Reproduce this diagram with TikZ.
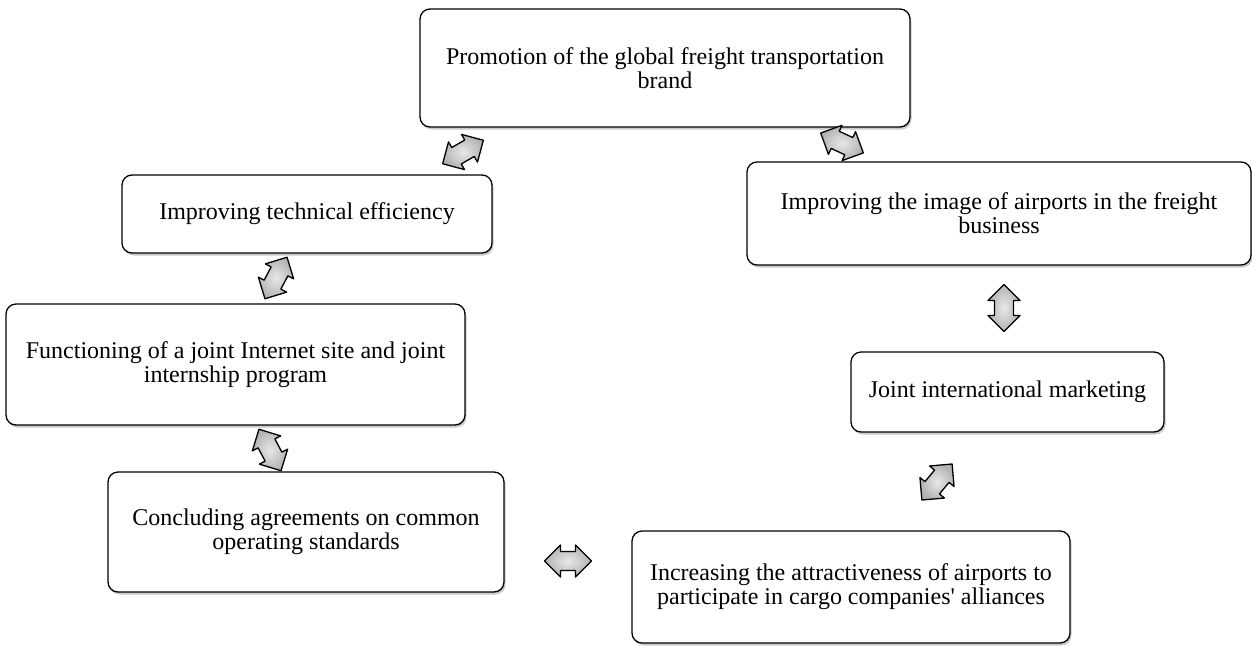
\documentclass[tikz,border=0pt]{standalone}
\usepackage{fontspec}
\setmainfont{Liberation Serif}[Ligatures=TeXOff]
\usetikzlibrary{shadows}
\begin{document}
\begin{tikzpicture}[x=1pt,y=-1pt,
  box/.style={draw=black, line width=1.3pt, rounded corners=10pt, fill=white,
    align=center, inner sep=0pt, font=\fontsize{24}{24}\selectfont,
    drop shadow={shadow xshift=1.5pt, shadow yshift=-2.5pt, opacity=0.35, fill=black!60}},
  dbl/.pic={\path[draw=black, line width=1.3pt, line join=round,
      inner color=gray!18, outer color=gray!60]
      (-23.5,0) -- (-7.5,-16) -- (-7.5,-9.5) -- (7.5,-9.5) -- (7.5,-16) -- (23.5,0)
      -- (7.5,16) -- (7.5,9.5) -- (-7.5,9.5) -- (-7.5,16) -- cycle;}
]
\useasboundingbox (0,0) rectangle (1252,646);
\node[box, minimum width=490pt, minimum height=118pt] (n1) at (665,68)
  {Promotion of the global freight transportation\\brand};
\node[box, minimum width=370pt, minimum height=78pt] (n2) at (307,214)
  {Improving technical efficiency};
\node[box, minimum width=459pt, minimum height=121pt] (n3) at (235.5,364.5)
  {Functioning of a joint Internet site and joint\\internship program};
\node[box, minimum width=396pt, minimum height=120pt] (n4) at (306,532)
  {Concluding agreements on common\\operating standards};
\node[box, minimum width=504pt, minimum height=103pt] (n5) at (999,213.5)
  {Improving the image of airports in the freight\\business};
\node[box, minimum width=313pt, minimum height=80pt] (n6) at (1007.5,392)
  {Joint international marketing};
\node[box, minimum width=438pt, minimum height=112pt] (n7) at (851,587)
  {Increasing the attractiveness of airports to\\participate in cargo companies' alliances};
\pic[rotate=30] (a12) at (463,152) {dbl};
\pic[rotate=-25] (a15) at (842,143) {dbl};
\pic[rotate=62] (a23) at (276,278) {dbl};
\pic[rotate=-62] (a34) at (270,450) {dbl};
\pic (a47) at (568,561) {dbl};
\pic[rotate=50] (a76) at (937,482) {dbl};
\pic[rotate=90] (a65) at (1004,308) {dbl};
\end{tikzpicture}
\end{document}
